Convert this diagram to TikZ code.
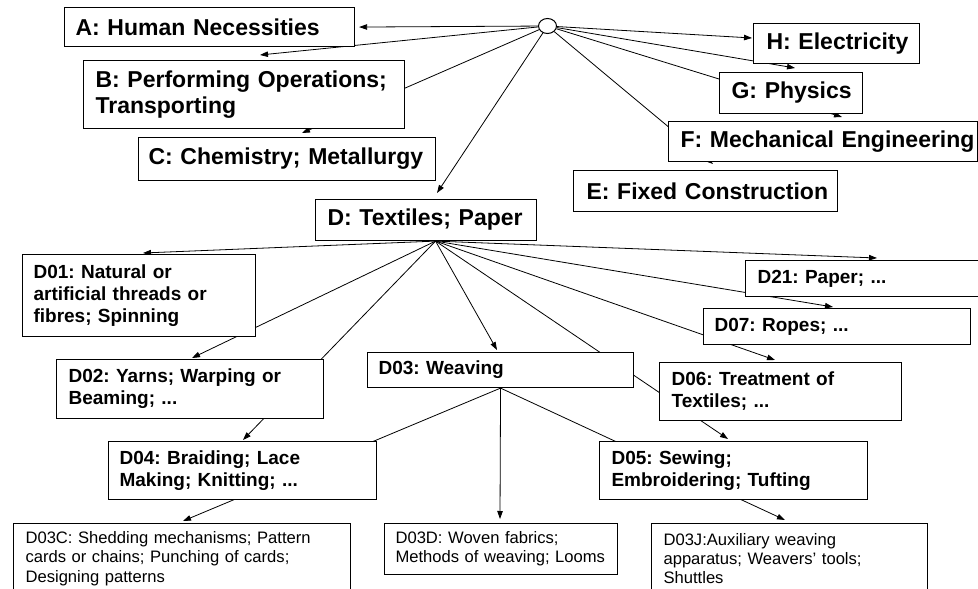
\documentclass[tikz,border=0pt]{standalone}
\usepackage{fontspec}
\setmainfont{Liberation Sans}
\usetikzlibrary{arrows.meta,calc,backgrounds,shapes.geometric}

\begin{document}
\frenchspacing
\begin{tikzpicture}[x=1pt,y=-1pt,
  % box: width, height, left padding of the text
  cell/.style n args={3}{draw=black, line width=1.1pt, fill=white,
    anchor=north west, inner sep=0pt, text width=#1pt, minimum height=#2pt,
    align=left, execute at begin node={\leftskip=#3pt\relax}},
  top/.style={font=\fontsize{23}{26.7}\selectfont\bfseries},
  mid/.style={font=\fontsize{19}{22}\selectfont\bfseries},
  leaf/.style={font=\fontsize{16.6}{19.3}\selectfont},
  link/.style={line width=0.8pt, -{Triangle[length=8pt,width=5.5pt]}},
  hub/.style={ellipse, draw=black, line width=1pt, fill=white,
    minimum width=18pt, minimum height=15pt, inner sep=0pt}
]
\useasboundingbox (0,0) rectangle (978,589);

% root hub
\node[hub] (root) at (547.5,26) {};

% sections
\node[cell={290}{39}{11}, top]  (A) at (64,7)   {A: Human Necessities};
\node[cell={321}{68}{12}, top]  (B) at (83,60)  {B: Performing Operations;\\Transporting};
\node[cell={297}{43}{10}, top]  (C) at (138,137) {C: Chemistry; Metallurgy};
\node[cell={221}{41}{12}, top]  (D) at (315,199) {D: Textiles; Paper};
\node[cell={264}{41}{13}, top]  (E) at (573,170) {E: Fixed Construction};
\node[cell={309}{40}{12}, top]  (F) at (668,121) {F: Mechanical Engineering};
\node[cell={143}{41}{12}, top]  (G) at (719,72)  {G: Physics};
\node[cell={166}{40}{13}, top]  (H) at (753,23)  {H: Electricity};

% classes of section D
\node[cell={233}{82}{11}, mid] (D01) at (22,254)  {D01: Natural or\\artificial threads or\\fibres; Spinning};
\node[cell={267}{59}{12}, mid] (D02) at (56,359)  {D02: Yarns; Warping or\\Beaming; ...};
\node[cell={266}{35}{11}, mid] (D03) at (367,352) {D03: Weaving};
\node[cell={268}{58}{11}, mid] (D04) at (108,441) {D04: Braiding; Lace\\Making; Knitting; ...};
\node[cell={268}{58}{12}, mid] (D05) at (599,441) {D05: Sewing;\\Embroidering; Tufting};
\node[cell={242}{58}{12}, mid] (D06) at (659,362) {D06: Treatment of\\Textiles; ...};
\node[cell={267}{36}{11}, mid] (D07) at (703,308) {D07: Ropes; ...};
\node[cell={260}{36}{12}, mid] (D21) at (745,260) {D21: Paper; ...};

% subclasses of D03
\node[cell={337}{70}{12}, leaf] (D03C) at (13,523)  {D03C: Shedding mechanisms; Pattern\\cards or chains; Punching of cards;\\Designing patterns};
\node[cell={233}{51}{11}, leaf] (D03D) at (384,523) {D03D: Woven fabrics;\\Methods of weaving; Looms};
\node[cell={276}{70}{12}, leaf] (D03J) at (651,523) {D03J:Auxiliary weaving\\apparatus; Weavers’ tools;\\Shuttles};

% fan-out points
\coordinate (dfan) at ($(D.south)+(9.5,0)$);
\coordinate (wfan) at (D03.south);

\begin{scope}[on background layer]
  \fill[white] (0,0) rectangle (978,589);
  % root to sections
  \draw[link] (root) -- ($(A.east)+(4,0)$);
  \draw[link] (root) -- ($(B.north west)+(177,-5)$);
  \draw[link] (root) -- ($(C.north west)+(164,-4)$);
  \draw[link] (root) -- ($(D.north west)+(122,-6)$);
  \draw[link] (root) -- ($(E.north west)+(140,-6)$);
  \draw[link] (root) -- ($(F.north west)+(174,-4)$);
  \draw[link] (root) -- ($(G.north west)+(76,-4)$);
  \draw[link] (root) -- ($(H.north west)+(-1,15)$);
  % section D to its classes
  \draw[link] (dfan) -- ($(D01.north west)+(121,-1)$);
  \draw[link] (dfan) -- ($(D02.north west)+(136,-1)$);
  \draw[link] (dfan) -- ($(D03.north west)+(130,-2)$);
  \draw[link] (dfan) -- ($(D04.north west)+(135,-1)$);
  \draw[link] (dfan) -- ($(D05.north west)+(129,-2)$);
  \draw[link] (dfan) -- ($(D06.north west)+(116,-2)$);
  \draw[link] (dfan) -- ($(D07.north west)+(130,-1)$);
  \draw[link] (dfan) -- ($(D21.north west)+(132,-2)$);
  % D03 to its subclasses
  \draw[link] (wfan) -- ($(D03C.north west)+(170,-2)$);
  \draw[link] (wfan) -- ($(D03D.north west)+(116,-4)$);
  \draw[link] (wfan) -- ($(D03J.north west)+(134,-3)$);
\end{scope}
\end{tikzpicture}
\end{document}
